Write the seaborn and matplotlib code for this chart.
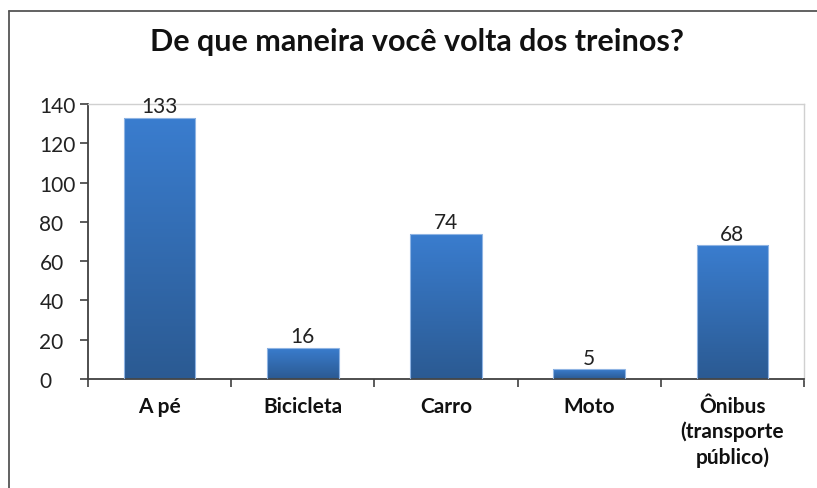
import matplotlib
matplotlib.use("Agg")
import matplotlib.pyplot as plt
from matplotlib.lines import Line2D
from matplotlib.colors import LinearSegmentedColormap
import seaborn as sns
import numpy as np
import pandas as pd

# data
categories = ["A pé", "Bicicleta", "Carro", "Moto", "Ônibus\n(transporte\npúblico)"]
counts = [133, 16, 74, 5, 68]
y_ticks = [0, 20, 40, 60, 80, 100, 120, 140]
title = "De que maneira você volta dos treinos?"

sns.set_theme(style="white")
plt.rcParams['font.family'] = ['Lato', 'DejaVu Sans']

fig = plt.figure(figsize=(8.17, 4.89), dpi=100)
ax = fig.add_axes([88/817, 1 - 380/489, (804-88)/817, (380-105)/489])

df = pd.DataFrame({"cat": categories, "n": counts})
sns.barplot(data=df, x="cat", y="n", ax=ax, width=0.5, color="#3a7bcc")

# gradient fill per bar (lighter top, darker bottom)
cmap = LinearSegmentedColormap.from_list("bar", ["#2b5a92", "#3a7dcf"])
grad = np.linspace(0, 1, 256).reshape(-1, 1)
for p in ax.patches:
    x0, y0 = p.get_x(), p.get_y()
    w, h = p.get_width(), p.get_height()
    im = ax.imshow(grad, cmap=cmap, origin="lower", aspect="auto",
                   extent=[x0, x0 + w, y0, y0 + h], zorder=2)
    im.set_clip_path(p)
    p.set_facecolor("none")
    p.set_edgecolor("#8fb4e3")
    p.set_linewidth(0.8)
    p.set_zorder(3)

ax.bar_label(ax.containers[0], labels=[str(v) for v in counts],
             padding=1, fontsize=15, color="#222222")

ax.set_xlim(-0.5, len(categories) - 0.5)
ax.set_ylim(0, 140)
ax.set_yticks(y_ticks)
ax.set_xlabel("")
ax.set_ylabel("")

# spines like an Excel chart
for s in ["left", "bottom"]:
    ax.spines[s].set_color("#404040")
    ax.spines[s].set_linewidth(1.3)
for s in ["top", "right"]:
    ax.spines[s].set_color("#d0d0d0")
    ax.spines[s].set_linewidth(1.0)

ax.tick_params(axis="y", which="major", left=True, length=6, width=1.2,
               color="#404040", labelsize=15, pad=29, labelcolor="#222222")
for lab in ax.get_yticklabels():
    lab.set_horizontalalignment("left")

ax.set_xticks(np.arange(-0.5, len(categories)), minor=True)
ax.tick_params(axis="x", which="minor", bottom=True, length=6, width=1.2,
               color="#404040")
ax.tick_params(axis="x", which="major", bottom=False, length=0, pad=12,
               labelsize=15, labelcolor="#111111")
for lab in ax.get_xticklabels():
    lab.set_fontweight("bold")
    lab.set_linespacing(1.3)

fig.text(417/817, 1 - 42/489, title, ha="center", va="center",
         fontsize=22, fontweight="bold", color="#111111")

# outer chart frame (left and top edges visible)
fig.add_artist(Line2D([9/817, 9/817], [0, 1 - 12/489], color="#555555", lw=1.3))
fig.add_artist(Line2D([9/817, 1], [1 - 12/489, 1 - 12/489], color="#555555", lw=1.3))

fig.savefig("out.png", dpi=100)
